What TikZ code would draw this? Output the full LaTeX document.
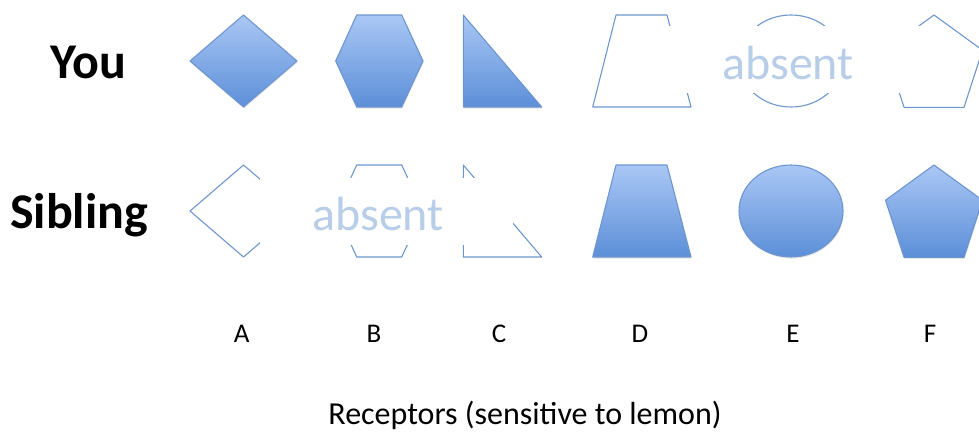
\documentclass[tikz,border=0pt]{standalone}
\usepackage{fontspec}
\setmainfont{Carlito}
\usetikzlibrary{shadows}
\definecolor{shapeline}{RGB}{110,150,206}
\definecolor{shapetop}{RGB}{170,199,245}
\definecolor{shapebot}{RGB}{92,143,216}
\definecolor{absentcol}{RGB}{184,206,232}
\tikzset{
  solidshape/.style={draw=shapeline, line width=1.1pt, top color=shapetop, bottom color=shapebot, line join=round,
    drop shadow={opacity=0.18, shadow xshift=0.6pt, shadow yshift=-1.6pt}},
  outlineshape/.style={draw=shapeline, line width=1.1pt, line join=round},
  coverbox/.style={fill=white, draw=none, minimum width=253pt, minimum height=67pt, inner sep=0pt},
  absenttext/.style={text=absentcol, font=\fontsize{48}{48}\selectfont, anchor=base, inner sep=0pt},
  rowlabel/.style={font=\fontsize{50}{50}\selectfont\bfseries, anchor=base, inner sep=0pt},
  letterlabel/.style={font=\fontsize{27}{27}\selectfont, anchor=base, inner sep=0pt},
  axislabel/.style={font=\fontsize{32}{32}\selectfont, anchor=base, inner sep=0pt}
}
\begin{document}
\begin{tikzpicture}[x=1pt,y=-1pt]
\useasboundingbox (0,0) rectangle (979,432);
\begin{scope}
\clip (0,0) rectangle (979,432);
% ---------- Row 1: You ----------
\path[solidshape] (190,61) -- (243.5,15) -- (297,61) -- (243.5,107) -- cycle;
\path[solidshape] (335.7,61) -- (356.7,15) -- (401.7,15) -- (423,61) -- (401.7,107) -- (356.7,107) -- cycle;
\path[solidshape] (463.3,15) -- (541.7,107) -- (463.3,107) -- cycle;
\path[outlineshape] (616,15) -- (667,15) -- (691,107) -- (592.7,107) -- cycle;
\path[outlineshape] (791,61) ellipse [x radius=52, y radius=46];
\path[outlineshape] (934,15) -- (982.5,50.2) -- (964,107.3) -- (904,107.3) -- (885.5,50.2) -- cycle;
% ---------- Row 2: Sibling ----------
\path[outlineshape] (190,211) -- (243.5,165) -- (297,211) -- (243.5,257) -- cycle;
\path[outlineshape] (335.7,211) -- (356.7,165) -- (401.7,165) -- (423,211) -- (401.7,257) -- (356.7,257) -- cycle;
\path[outlineshape] (463.3,165) -- (541.7,257) -- (463.3,257) -- cycle;
\path[solidshape] (616,165) -- (667,165) -- (691,257) -- (592.7,257) -- cycle;
\path[solidshape] (791,211) ellipse [x radius=52, y radius=46];
\path[solidshape] (934,165) -- (982.5,200.2) -- (964,257.3) -- (904,257.3) -- (885.5,200.2) -- cycle;
\end{scope}
% ---------- absent covers ----------
\node[coverbox] (cover1) at (794,59.5) {};
\node[absenttext] (absent1) at (788,79) {absent};
\node[coverbox] (cover2) at (386,211.5) {};
\node[absenttext] (absent2) at (378,230) {absent};
% ---------- Row labels ----------
\node[rowlabel] (you) at (88,78) {You};
\node[rowlabel] (sibling) at (79,228) {Sibling};
% ---------- Column letters ----------
\node[letterlabel] (la) at (241.7,342) {A};
\node[letterlabel] (lb) at (374,342) {B};
\node[letterlabel] (lc) at (499,342) {C};
\node[letterlabel] (ld) at (640,342) {D};
\node[letterlabel] (le) at (793,342) {E};
\node[letterlabel] (lf) at (930,342) {F};
% ---------- Axis label ----------
\node[axislabel] (axis) at (525,424) {Receptors (sensitive to lemon)};
\end{tikzpicture}
\end{document}
